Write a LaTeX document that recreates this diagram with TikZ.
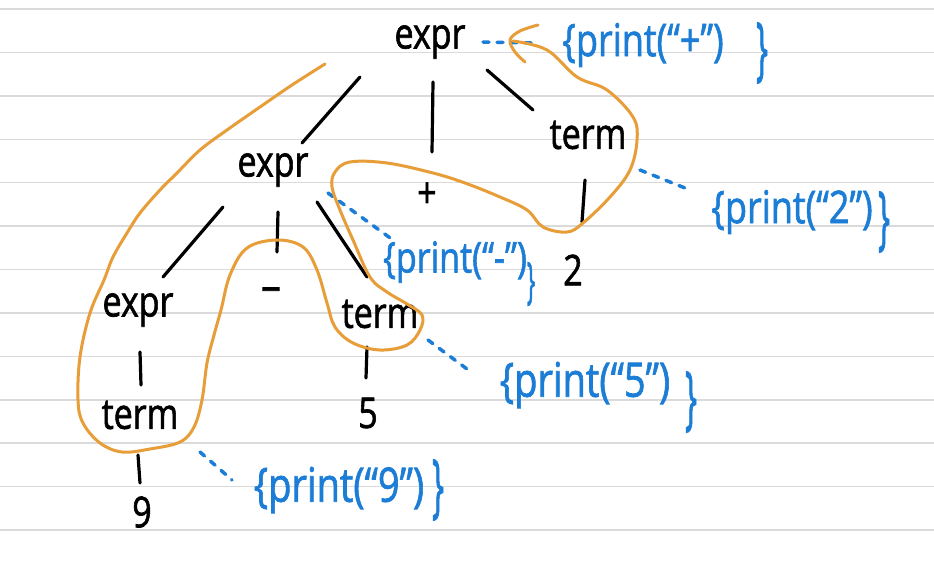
\documentclass[tikz,border=0pt]{standalone}
\usepackage{fontspec}
\setmainfont{Open Sans}
\newfontfamily\inkfont[FakeBold=1.6]{Open Sans}
\usetikzlibrary{calc}
\definecolor{paperline}{HTML}{DADADA}
\definecolor{inkblue}{HTML}{1C7DD6}
\definecolor{inkorange}{HTML}{E79D38}
\begin{document}
\begin{tikzpicture}[x=1pt,y=-1pt,
  lbl/.style={inner sep=0pt, font=\inkfont\fontsize{34}{34}\selectfont, yscale=1.25},
  ann/.style={inner sep=0pt, text=inkblue, font=\inkfont\fontsize{36}{36}\selectfont, yscale=1.25},
  brace/.style={inner sep=0pt, text=inkblue, font=\inkfont\fontsize{70}{70}\selectfont, xscale=0.45},
  edge/.style={line width=3.2pt, line cap=round},
  dotline/.style={inkblue, line width=3.5pt, line cap=round, dash pattern=on 6pt off 8pt},
  trail/.style={inkorange, line width=3pt, line cap=round, line join=round}]
\fill[white] (0,0) rectangle (934,561);
\useasboundingbox (0,0) rectangle (934,561);
\foreach \i in {0,...,12} \draw[paperline, line width=1.5pt] (0,9+43.42*\i) -- (934,9+43.42*\i);

% tree labels
\node[lbl] (e1) at (430,42) {expr};
\node[lbl] (t1) at (588,135) {term};
\node[lbl] (e2) at (273,170) {expr};
\node[lbl] (plus) at (427,195) {+};
\node[lbl] (two) at (573,270) {2};
\node[lbl] (e3) at (138,310) {expr};
\node[lbl, xscale=2] (minus) at (271,294) {-};
\node[lbl] (t2) at (380,314) {term};
\node[lbl] (t3) at (140,415) {term};
\node[lbl] (five) at (368,413) {5};
\node[lbl] (nine) at (142,512) {9};

% tree edges
\draw[edge] ($(e1)+(-70,35)$) -- ($(e2)+(29,-27)$);
\draw[edge] ($(e1)+(3,40)$) -- ($(plus)+(5,-43)$);
\draw[edge] ($(e1)+(57,28)$) -- ($(t1)+(-55,-25)$);
\draw[edge] ($(t1)+(-3,45)$) -- ($(two)+(9,-48)$);
\draw[edge] ($(e2)+(-50,37)$) -- ($(e3)+(25,-33)$);
\draw[edge] ($(e2)+(5,42)$) -- ($(minus)+(6,-42)$);
\draw[edge] ($(e2)+(44,32)$) -- ($(t2)+(-13,-37)$);
\draw[edge] ($(e3)+(2,42)$) -- ($(t3)+(1,-30)$);
\draw[edge] ($(t2)+(-13,33)$) -- ($(five)+(-2,-35)$);
\draw[edge] ($(t3)+(-2,40)$) -- ($(nine)+(-2,-29)$);

% semantic actions
\node[ann] (a1) at (643,45) {\{print(“+”)};
\node[brace] (b1) at (762,53) {\}};
\node[ann] (a2) at (792,212) {\{print(“2”)};
\node[brace] (b2) at (884,222) {\}};
\node[ann, font=\inkfont\fontsize{34}{34}\selectfont] (a3) at (455,262) {\{print(“-”)};
\node[brace, font=\inkfont\fontsize{50}{50}\selectfont] (b3) at (531,284) {\}};
\node[ann, font=\inkfont\fontsize{38}{38}\selectfont] (a4) at (585,385) {\{print(“5”)};
\node[brace] (b4) at (691,402) {\}};
\node[ann, font=\inkfont\fontsize{38}{38}\selectfont] (a5) at (339,490) {\{print(“9”)};
\node[brace] (b5) at (438,490) {\}};

% dotted links
\draw[dotline] ($(e1)+(53,0)$) -- ($(a1)+(-106,-2)$);
\draw[dotline] ($(t1)+(52,35)$) -- ($(a2)+(-102,-22)$);
\draw[dotline] ($(e2)+(55,23)$) -- ($(a3)+(-62,-22)$);
\draw[dotline] ($(t2)+(48,26)$) -- ($(a4)+(-114,-13)$);
\draw[dotline] ($(t3)+(60,37)$) -- ($(a5)+(-107,-10)$);

% traversal trail
\draw[trail] plot[smooth, tension=0.6] coordinates {
(325,64) (292,85) (260,107) (227,130) (200,150) (177,173) (160,190) (140,213)
(127,233) (113,257) (104,280) (90,313) (80,357) (78,400) (83,423) (100,443)
(122,452) (150,449) (180,442) (194,427) (202,400) (207,363) (214,335) (221,310)
(230,275) (247,248) (277,240) (303,247) (317,270) (327,303) (335,327) (353,343)
(380,350) (407,345) (420,330) (422,315) (407,304) (387,292) (370,277) (353,240)
(340,210) (332,187) (335,172) (350,162) (387,163) (433,173) (465,183) (500,197)
(527,210) (543,227) (567,232) (583,223) (610,197) (630,170) (637,140) (633,117)
(607,90) (577,77) (547,50) (513,41)};
\draw[trail] plot[smooth, tension=0.6] coordinates {(538,25) (520,31) (510,40) (515,52) (525,62)};
\end{tikzpicture}
\end{document}
